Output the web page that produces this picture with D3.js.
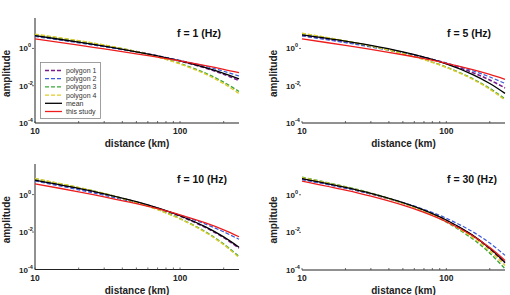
<!DOCTYPE html>
<html>
<head>
<meta charset="utf-8">
<script src="https://cdn.jsdelivr.net/npm/d3@7"></script>
<style>
  body { margin: 0; background: #fff; }
  text { font-family: "Liberation Sans", Arial, sans-serif; }
</style>
</head>
<body>
<svg width="510" height="295"></svg>
<script>
// distances (km) where the curves are sampled
const distances = [10, 20, 30, 50, 70, 100, 150, 200, 255];

const seriesNames = ["polygon 1", "polygon 2", "polygon 3", "polygon 4", "mean", "this study"];
const panelTitles = ["f = 1 (Hz)", "f = 5 (Hz)", "f = 10 (Hz)", "f = 30 (Hz)"];

// amplitudes, one row per series (same order as seriesNames)
const ampF1 = [
  [4.69, 2.185, 1.342, 0.676, 0.403, 0.2133, 0.0887, 0.0413, 0.0191],
  [4.41, 2.0, 1.229, 0.636, 0.396, 0.227, 0.1096, 0.0599, 0.0333],
  [5.51, 2.523, 1.489, 0.676, 0.357, 0.1567, 0.0468, 0.0155, 0.0049],
  [5.86, 2.636, 1.535, 0.676, 0.349, 0.1472, 0.0414, 0.0129, 0.0038],
  [4.86, 2.178, 1.317, 0.658, 0.394, 0.2133, 0.0933, 0.0462, 0.0230],
  [3.24, 1.50, 0.945, 0.517, 0.340, 0.2133, 0.1197, 0.0762, 0.0501]
];
const ampF5 = [
  [4.99, 2.224, 1.310, 0.608, 0.334, 0.1567, 0.0534, 0.0204, 0.0076],
  [4.69, 2.036, 1.199, 0.572, 0.328, 0.1667, 0.0659, 0.0296, 0.0132],
  [6.31, 2.508, 1.352, 0.538, 0.258, 0.100, 0.0252, 0.0072, 0.00195],
  [6.55, 2.556, 1.360, 0.532, 0.251, 0.0955, 0.0234, 0.0065, 0.0017],
  [5.31, 2.466, 1.460, 0.659, 0.344, 0.1472, 0.0420, 0.0132, 0.0039],
  [3.24, 1.461, 0.893, 0.459, 0.283, 0.1603, 0.0760, 0.0407, 0.0222]
];
const ampF10 = [
  [5.65, 2.054, 1.055, 0.398, 0.185, 0.0702, 0.0175, 0.0050, 0.00138],
  [5.31, 1.797, 0.913, 0.359, 0.181, 0.0794, 0.0264, 0.0103, 0.0041],
  [6.97, 2.357, 1.138, 0.385, 0.161, 0.0525, 0.0102, 0.0023, 0.00049],
  [7.23, 2.394, 1.141, 0.378, 0.156, 0.0501, 0.0095, 0.0021, 0.00044],
  [5.89, 2.134, 1.095, 0.415, 0.194, 0.0741, 0.0188, 0.0055, 0.00155],
  [3.76, 1.41, 0.763, 0.328, 0.176, 0.0832, 0.0305, 0.0130, 0.0056]
];
const ampF30 = [
  [6.79, 2.322, 1.110, 0.360, 0.143, 0.0428, 0.0071, 0.00135, 0.000238],
  [6.38, 2.238, 1.106, 0.387, 0.167, 0.0561, 0.0115, 0.0027, 0.000601],
  [8.49, 2.704, 1.225, 0.363, 0.133, 0.0355, 0.0049, 0.00079, 0.000116],
  [8.18, 2.569, 1.166, 0.353, 0.134, 0.0378, 0.0058, 0.00105, 0.000175],
  [7.23, 2.471, 1.181, 0.383, 0.153, 0.0455, 0.0076, 0.00144, 0.000253],
  [5.31, 1.759, 0.838, 0.278, 0.115, 0.0368, 0.0070, 0.00155, 0.000324]
];
const panelData = [ampF1, ampF5, ampF10, ampF30];

const xTicks = [10, 100];
const xMinorTicks = [20, 30, 40, 50, 60, 70, 80, 90, 200];
const yTicks = [1, 1e-2, 1e-4];
const yTickExp = ["0", "-2", "-4"];

// styles
const colors = ["#7b1d8c", "#3b5bdb", "#3aa53a", "#e0cc2a", "#000000", "#ee1c1c"];
const dashes = ["4,2", "4,2", "4,2", "4,2", null, null];
const widths = [1.6, 1.2, 1.4, 1.4, 1.3, 1.3];

const svg = d3.select("svg");

// panel boxes [x0, x1, yTop, yBottom]
const boxes = [
  [35, 239, 18, 123],
  [302, 505, 18, 123],
  [35, 239, 164, 269.5],
  [302, 505, 164, 270]
];

boxes.forEach((b, p) => {
  const [x0, x1, yt, yb] = b;
  const left = p % 2 === 0;
  const g = svg.append("g");

  const x = d3.scaleLog().domain([10, 255]).range([x0, x1]);
  const y = d3.scaleLog().domain([1e-4, 43]).range([yb, yt]);

  // axis lines
  g.append("line").attr("x1", x0).attr("x2", x1).attr("y1", yb).attr("y2", yb)
    .attr("stroke", "#222").attr("stroke-width", 1);
  if (left) {
    g.append("line").attr("x1", x0).attr("x2", x0).attr("y1", yt).attr("y2", yb)
      .attr("stroke", "#222").attr("stroke-width", 1);
  }

  // x ticks (inward)
  g.selectAll("line.xminor").data(xMinorTicks.concat(xTicks)).enter().append("line")
    .attr("x1", d => x(d)).attr("x2", d => x(d))
    .attr("y1", yb).attr("y2", yb - 2)
    .attr("stroke", "#444").attr("stroke-width", 0.8);

  g.selectAll("text.xt").data(xTicks).enter().append("text")
    .attr("x", d => x(d)).attr("y", yb + 11)
    .attr("text-anchor", "middle").attr("font-size", "8.5px").attr("font-weight", "bold")
    .attr("fill", "#222")
    .text(d => d);

  // y ticks
  g.selectAll("line.yt").data(yTicks.slice(0, 2)).enter().append("line")
    .attr("x1", x0 - 3).attr("x2", x0 - 1)
    .attr("y1", d => y(d)).attr("y2", d => y(d))
    .attr("stroke", "#444").attr("stroke-width", 0.8);

  const yl = g.selectAll("text.yt").data(yTicks).enter().append("text")
    .attr("x", x0 - 16).attr("y", d => y(d) + 3)
    .attr("font-size", "8px").attr("font-weight", "bold").attr("fill", "#222");
  yl.append("tspan").text("10");
  yl.append("tspan").attr("dy", -4).attr("font-size", "5.5px").text((d, i) => yTickExp[i]);

  // axis titles
  g.append("text")
    .attr("x", (x0 + x1) / 2).attr("y", yb + 24)
    .attr("text-anchor", "middle").attr("font-size", "10px").attr("font-weight", "bold")
    .attr("fill", "#222")
    .text("distance (km)");

  g.append("text")
    .attr("transform", `translate(${x0 - 25},${(yt + yb) / 2 + 3}) rotate(-90)`)
    .attr("text-anchor", "middle").attr("font-size", "10px").attr("font-weight", "bold")
    .attr("fill", "#222")
    .text("amplitude");

  g.append("text")
    .attr("x", x0 + (left ? 142 : 145)).attr("y", yt + 19)
    .attr("font-size", "10.5px").attr("font-weight", "bold").attr("fill", "#111")
    .text(panelTitles[p]);

  // curves
  const line = d3.line()
    .x((d, i) => x(distances[i]))
    .y(d => y(d))
    .curve(d3.curveCatmullRom);

  g.selectAll("path.curve").data(panelData[p]).enter().append("path")
    .attr("d", d => line(d))
    .attr("fill", "none")
    .attr("stroke", (d, i) => colors[i])
    .attr("stroke-width", (d, i) => widths[i])
    .attr("stroke-dasharray", (d, i) => dashes[i]);

  // legend in first panel
  if (p === 0) {
    const lg = g.append("g");
    lg.append("rect").attr("x", 40.5).attr("y", 62.5).attr("width", 60).attr("height", 56)
      .attr("fill", "#fff").attr("stroke", "#888").attr("stroke-width", 0.8);
    const rows = lg.selectAll("g.row").data(seriesNames).enter().append("g")
      .attr("transform", (d, i) => `translate(0,${70.5 + i * 8.2})`);
    rows.append("line").attr("x1", 45).attr("x2", 62).attr("y1", 0).attr("y2", 0)
      .attr("stroke", (d, i) => colors[i])
      .attr("stroke-width", (d, i) => widths[i])
      .attr("stroke-dasharray", (d, i) => dashes[i]);
    rows.append("text").attr("x", 66).attr("y", 2.5)
      .attr("font-size", "7px").attr("fill", "#333")
      .text(d => d);
  }
});
</script>
</body>
</html>
